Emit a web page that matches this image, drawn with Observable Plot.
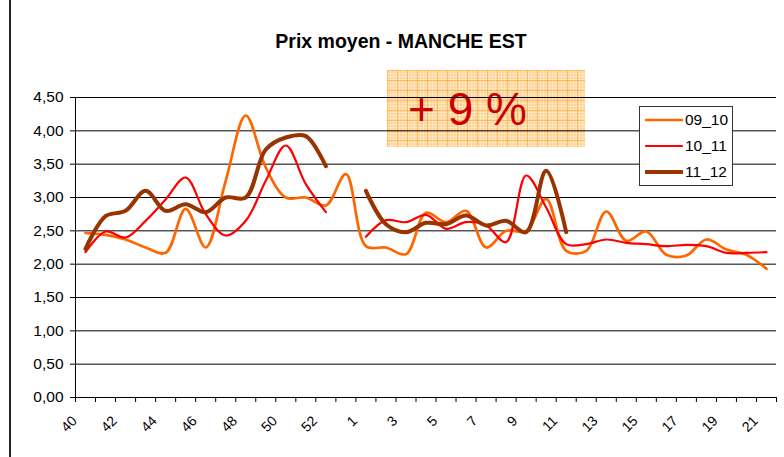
<!DOCTYPE html>
<html><head><meta charset="utf-8">
<script src="https://cdn.jsdelivr.net/npm/d3@7"></script>
<script src="https://cdn.jsdelivr.net/npm/@observablehq/plot@0.6"></script>
<style>
body{margin:0;background:#fff;font-family:"Liberation Sans",Arial,sans-serif;}
#wrap{position:relative;width:784px;height:457px;overflow:hidden;background:#fff;}
#border{position:absolute;left:9px;top:0;height:457px;border-left:2px solid #222;}
#badge{position:absolute;left:387px;top:70px;width:198px;height:77px;
  background-color:#FFD59A;
  background-image:
    linear-gradient(rgba(255,165,50,0.6) 1px, transparent 1px),
    linear-gradient(90deg, rgba(255,165,50,0.6) 1px, transparent 1px),
    linear-gradient(rgba(255,255,255,0.3) 1px, transparent 1px),
    linear-gradient(90deg, rgba(255,255,255,0.3) 1px, transparent 1px);
  background-size:10px 10px,10px 10px,3px 3px,3px 3px;}
#badge span{position:absolute;left:21px;top:16px;font-size:46px;line-height:1;color:#CC0000;white-space:pre;}
#chart{position:absolute;left:0;top:0;}
#title{position:absolute;left:0;top:32px;width:802px;text-align:center;font-weight:bold;font-size:19.5px;line-height:1;color:#000;}
#legend{position:absolute;left:639px;top:106px;width:92px;height:78px;border:1px solid #333;background:#fff;}
.row{position:relative;height:26px;}
.row svg{position:absolute;left:5px;top:8px;}
.row span{position:absolute;left:45px;top:5px;font-size:15.5px;line-height:1;color:#000;}
</style></head><body>
<div id="wrap">
  <div id="border"></div>
  <div id="badge"><span>+ 9 %</span></div>
  <div id="chart"></div>
  <div id="title">Prix moyen - MANCHE EST</div>
  <div id="legend"></div>
</div>
<script>
// Week categories (season weeks 40..53, then 1..21)
const weeks = ["40","41","42","43","44","45","46","47","48","49","50","51","52","53",
  "1","2","3","4","5","6","7","8","9","10","11","12","13","14","15","16","17","18","19","20","21"];
// Labelled category indices (every other week)
const labelIdx = [0,2,4,6,8,10,12,14,16,18,20,22,24,26,28,30,32,34];
const yTicks = [0,0.5,1,1.5,2,2.5,3,3.5,4,4.5];

const seriesNames = ["09_10","10_11","11_12"];
const seriesColors = ["#FF6600","#FF0000","#993300"];
const seriesWidths = [2.7, 2.2, 4];

const s0910 = [2.47,2.44,2.37,2.25,2.17,2.83,2.25,3.25,4.23,3.45,3.0,3.0,2.88,3.35,
  2.27,2.25,2.15,2.77,2.63,2.8,2.25,2.5,2.5,2.98,2.2,2.2,2.79,2.35,2.49,2.14,2.13,2.37,2.22,2.14,1.93];
const s1011 = [2.18,2.49,2.4,2.65,2.97,3.3,2.75,2.43,2.65,3.25,3.78,3.2,2.78,null,
  2.41,2.66,2.63,2.74,2.53,2.63,2.58,2.33,3.33,2.85,2.3,2.3,2.37,2.32,2.3,2.27,2.29,2.27,2.17,2.17,2.18];
const s1112 = [2.23,2.72,2.8,3.1,2.8,2.9,2.78,3.0,3.0,3.72,3.9,3.92,3.47,null,
  3.1,2.6,2.48,2.62,2.6,2.73,2.58,2.65,2.48,3.4,2.48,null,null,null,null,null,null,null,null,null,null];
const seriesValues = [s0910, s1011, s1112];

const idx = d3.range(weeks.length);
const boundaries = d3.range(weeks.length + 1).map(k => k - 0.5);
const font = "Liberation Sans, Arial, sans-serif";

const lines = seriesValues.map((vals, s) =>
  Plot.line(idx, {
    x: i => i,
    y: i => vals[i] == null ? NaN : vals[i],
    curve: "catmull-rom",
    stroke: seriesColors[s],
    strokeWidth: seriesWidths[s],
    strokeLinejoin: "round",
    strokeLinecap: "round"
  })
);

const plot = Plot.plot({
  width: 784, height: 457,
  marginTop: 97, marginBottom: 60, marginLeft: 75, marginRight: 8,
  style: {background: "transparent", fontFamily: font, fontSize: "15px", color: "#000"},
  x: {type: "linear", domain: [-0.5, weeks.length - 0.5]},
  y: {domain: [0, 4.5]},
  marks: [
    Plot.ruleY(yTicks, {stroke: "#000", strokeWidth: 1}),
    Plot.ruleX([-0.5], {stroke: "#000", strokeWidth: 1}),
    Plot.axisY(yTicks, {tickFormat: d => d.toFixed(2).replace(".", ","), tickSize: 5, tickPadding: 7, fontSize: 15.5, label: null, stroke: "#000"}),
    Plot.axisX(boundaries, {tickSize: 5, tickFormat: () => "", label: null, stroke: "#000"}),
    Plot.axisX(labelIdx, {tickSize: 0, tickRotate: -45, tickPadding: 21, tickFormat: i => weeks[i], fontSize: 14, label: null, dx: -11}),
    ...lines
  ]
});
document.getElementById("chart").appendChild(plot);

// Legend
const legend = document.getElementById("legend");
seriesNames.forEach((name, s) => {
  const row = document.createElement("div");
  row.className = "row";
  row.innerHTML = `<svg width="38" height="10"><line x1="1" x2="37" y1="5" y2="5" stroke="${seriesColors[s]}" stroke-width="${seriesWidths[s]}" stroke-linecap="round"/></svg><span>${name}</span>`;
  legend.appendChild(row);
});
</script>
</body></html>
